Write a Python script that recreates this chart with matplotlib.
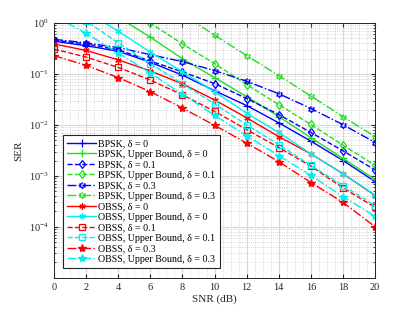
import numpy as np
import matplotlib
matplotlib.use("Agg")
import matplotlib.pyplot as plt
from matplotlib.ticker import AutoMinorLocator, LogLocator, NullFormatter

plt.rcParams['font.family'] = ['Liberation Serif', 'DejaVu Serif']
plt.rcParams['mathtext.fontset'] = 'custom'
plt.rcParams['mathtext.rm'] = 'Liberation Serif'
plt.rcParams['mathtext.it'] = 'Liberation Serif:italic'

# SNR grid (dB)
snr = [0, 2, 4, 6, 8, 10, 12, 14, 16, 18, 20]

# SER curves (values > 1 are clipped by the axis)
bpsk_d0 = [0.44, 0.36, 0.28, 0.17, 0.095, 0.047, 0.024, 0.011, 0.0048, 0.002, 0.00077]
bpsk_ub_d0 = [6.0, 3.0, 1.3, 0.53, 0.2, 0.085, 0.036, 0.0146, 0.0056, 0.0022, 0.00085]
bpsk_d01 = [0.46, 0.39, 0.3, 0.18, 0.11, 0.065, 0.033, 0.016, 0.0071, 0.0031, 0.0013]
bpsk_ub_d01 = [15.0, 6.0, 2.5, 1.0, 0.39, 0.16, 0.062, 0.025, 0.0102, 0.004, 0.0016]
bpsk_d03 = [0.48, 0.41, 0.33, 0.24, 0.175, 0.117, 0.072, 0.041, 0.021, 0.0101, 0.0045]
bpsk_ub_d03 = [40.0, 17.0, 7.0, 3.0, 1.5, 0.58, 0.23, 0.093, 0.037, 0.0145, 0.0059]
obss_d0 = [0.39, 0.29, 0.19, 0.115, 0.064, 0.031, 0.0138, 0.0059, 0.0027, 0.0011, 0.00041]
obss_ub_d0 = [5.0, 1.75, 0.69, 0.27, 0.11, 0.045, 0.017, 0.0071, 0.0027, 0.0011, 0.00042]
obss_d01 = [0.31, 0.215, 0.135, 0.076, 0.039, 0.0185, 0.0081, 0.0036, 0.00155, 0.00058, 0.00024]
obss_ub_d01 = [4.0, 1.1, 0.41, 0.16, 0.064, 0.026, 0.01, 0.0041, 0.0016, 0.00064, 0.00026]
obss_d03 = [0.23, 0.148, 0.085, 0.045, 0.0215, 0.0098, 0.0044, 0.0019, 0.00074, 0.0003, 0.0001]
obss_ub_d03 = [1.4, 0.63, 0.26, 0.104, 0.04, 0.0155, 0.0061, 0.0025, 0.00102, 0.00039, 0.00016]

# hexagram marker (MATLAB 'h')
ang = np.pi / 2 + np.arange(12) * np.pi / 6
rad = np.where(np.arange(12) % 2 == 0, 1.0, 1 / np.sqrt(3))
hexagram = list(zip(rad * np.cos(ang), rad * np.sin(ang)))

blue = '#0000ff'
green = '#22dd22'
red = '#ff0000'
cyan = '#00eeee'
asterisk = (6, 2, 0)

series = [
    (bpsk_d0, blue, '-', '+', 'BPSK, δ = 0'),
    (bpsk_ub_d0, green, '-', '+', 'BPSK, Upper Bound, δ = 0'),
    (bpsk_d01, blue, '--', 'd', 'BPSK, δ = 0.1'),
    (bpsk_ub_d01, green, '--', 'd', 'BPSK, Upper Bound, δ = 0.1'),
    (bpsk_d03, blue, '-.', hexagram, 'BPSK, δ = 0.3'),
    (bpsk_ub_d03, green, '-.', hexagram, 'BPSK, Upper Bound, δ = 0.3'),
    (obss_d0, red, '-', asterisk, 'OBSS, δ = 0'),
    (obss_ub_d0, cyan, '-', asterisk, 'OBSS, Upper Bound, δ = 0'),
    (obss_d01, red, '--', 's', 'OBSS, δ = 0.1'),
    (obss_ub_d01, cyan, '--', 's', 'OBSS, Upper Bound, δ = 0.1'),
    (obss_d03, red, '-.', '*', 'OBSS, δ = 0.3'),
    (obss_ub_d03, cyan, '-.', '*', 'OBSS, Upper Bound, δ = 0.3'),
]

fig = plt.figure(figsize=(4.15, 3.12), dpi=100)
ax = fig.add_axes([0.130, 0.110, 0.774, 0.816])

for vals, col, ls, mk, lab in series:
    filled = mk == '*'
    ms = 6 if filled else 4.5
    if mk == '+':
        ms = 6
    ax.semilogy(snr, vals, color=col, linestyle=ls, linewidth=1.0, marker=mk,
                markersize=ms, markeredgewidth=0.9,
                markerfacecolor=col if filled else 'none', markeredgecolor=col,
                label=lab)

ax.set_xlim(0, 20)
ax.set_ylim(1e-5, 1)
ax.set_xticks(range(0, 21, 2))
ax.set_yticks([1e-4, 1e-3, 1e-2, 1e-1, 1e0])
ax.yaxis.set_minor_locator(LogLocator(base=10, subs=np.arange(2, 10)))
ax.yaxis.set_minor_formatter(NullFormatter())
ax.xaxis.set_minor_locator(AutoMinorLocator(4))

ax.grid(True, which='major', color='#d8d8d8', linewidth=0.8, linestyle='-')
ax.grid(True, which='minor', color='#c8c8c8', linewidth=0.6, linestyle=':')
ax.set_axisbelow(True)

ax.tick_params(which='both', direction='in', top=True, right=True, labelsize=7.5,
               color='#262626', labelcolor='#262626')
ax.tick_params(which='major', length=3)
ax.tick_params(which='minor', length=1.5)
ax.tick_params(axis='x', which='minor', length=0)
for s in ax.spines.values():
    s.set_color('#262626')
    s.set_linewidth(0.7)

ax.set_xlabel('SNR (dB)', fontsize=8, color='#262626', labelpad=2)
ax.set_ylabel('SER', fontsize=8, color='#262626', labelpad=4)

leg = ax.legend(loc='lower left', bbox_to_anchor=(0.028, 0.038), fontsize=7.2,
                handlelength=2.9, handletextpad=0.2, labelspacing=0.15,
                borderpad=0.45, borderaxespad=0, fancybox=False, framealpha=1)
leg.get_frame().set_edgecolor('#262626')
leg.get_frame().set_linewidth(0.8)

fig.savefig('out.png', dpi=100)
